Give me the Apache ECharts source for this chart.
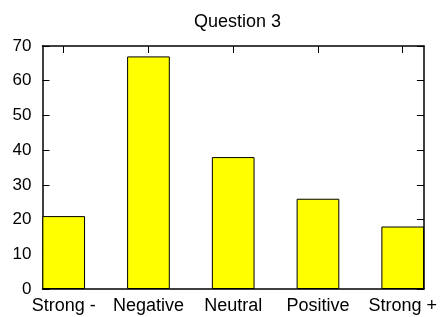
<!DOCTYPE html>
<html>
<head>
<meta charset="utf-8">
<script src="https://cdn.jsdelivr.net/npm/echarts@6/dist/echarts.min.js"></script>
<style>
  html, body { margin: 0; padding: 0; background: #fff; }
  #chart { width: 440px; height: 317px; }
</style>
</head>
<body>
<div id="chart"></div>
<script>
const categories = ['Strong -', 'Negative', 'Neutral', 'Positive', 'Strong +'];
const answers = [21, 67, 38, 26, 18];
const catPositions = [0, 1, 2, 3, 4];

const font = 'Liberation Sans, Arial, Helvetica, sans-serif';
const chart = echarts.init(document.getElementById('chart'));

const frameLine = { show: true, onZero: false, lineStyle: { color: '#000', width: 1.5 } };
const innerTick = (vals) => ({
  show: true, inside: true, length: 7, customValues: vals,
  lineStyle: { color: '#000', width: 1 }
});

chart.setOption({
  animation: false,
  title: {
    text: 'Question 3',
    left: 189,
    top: 8,
    textStyle: { fontFamily: font, fontSize: 18, fontWeight: 'normal', color: '#000' }
  },
  grid: { left: 42.5, right: 14, top: 46, bottom: 28 },
  xAxis: [
    {
      type: 'value', position: 'bottom', min: -0.25, max: 4.25,
      axisLine: frameLine, splitLine: { show: false },
      axisTick: innerTick(catPositions),
      axisLabel: {
        customValues: catPositions, margin: 8,
        fontFamily: font, fontSize: 18, color: '#000',
        formatter: (v) => categories[Math.round(v)]
      }
    },
    {
      type: 'value', position: 'top', min: -0.25, max: 4.25,
      axisLine: frameLine, splitLine: { show: false },
      axisTick: innerTick(catPositions), axisLabel: { show: false }
    }
  ],
  yAxis: [
    {
      type: 'value', position: 'left', min: 0, max: 70, interval: 10,
      axisLine: frameLine, splitLine: { show: false },
      axisTick: { show: true, inside: true, length: 7, lineStyle: { color: '#000' } },
      axisLabel: { margin: 11, fontFamily: font, fontSize: 17, color: '#000' }
    },
    {
      type: 'value', position: 'right', min: 0, max: 70, interval: 10,
      axisLine: frameLine, splitLine: { show: false },
      axisTick: { show: true, inside: true, length: 7, lineStyle: { color: '#000' } },
      axisLabel: { show: false }
    }
  ],
  series: [
    {
      type: 'bar',
      xAxisIndex: 0, yAxisIndex: 0,
      barWidth: 42.7,
      data: answers.map((v, i) => [catPositions[i], v]),
      itemStyle: { color: '#ffff00', borderColor: '#000', borderWidth: 1 }
    }
  ]
});
</script>
</body>
</html>
